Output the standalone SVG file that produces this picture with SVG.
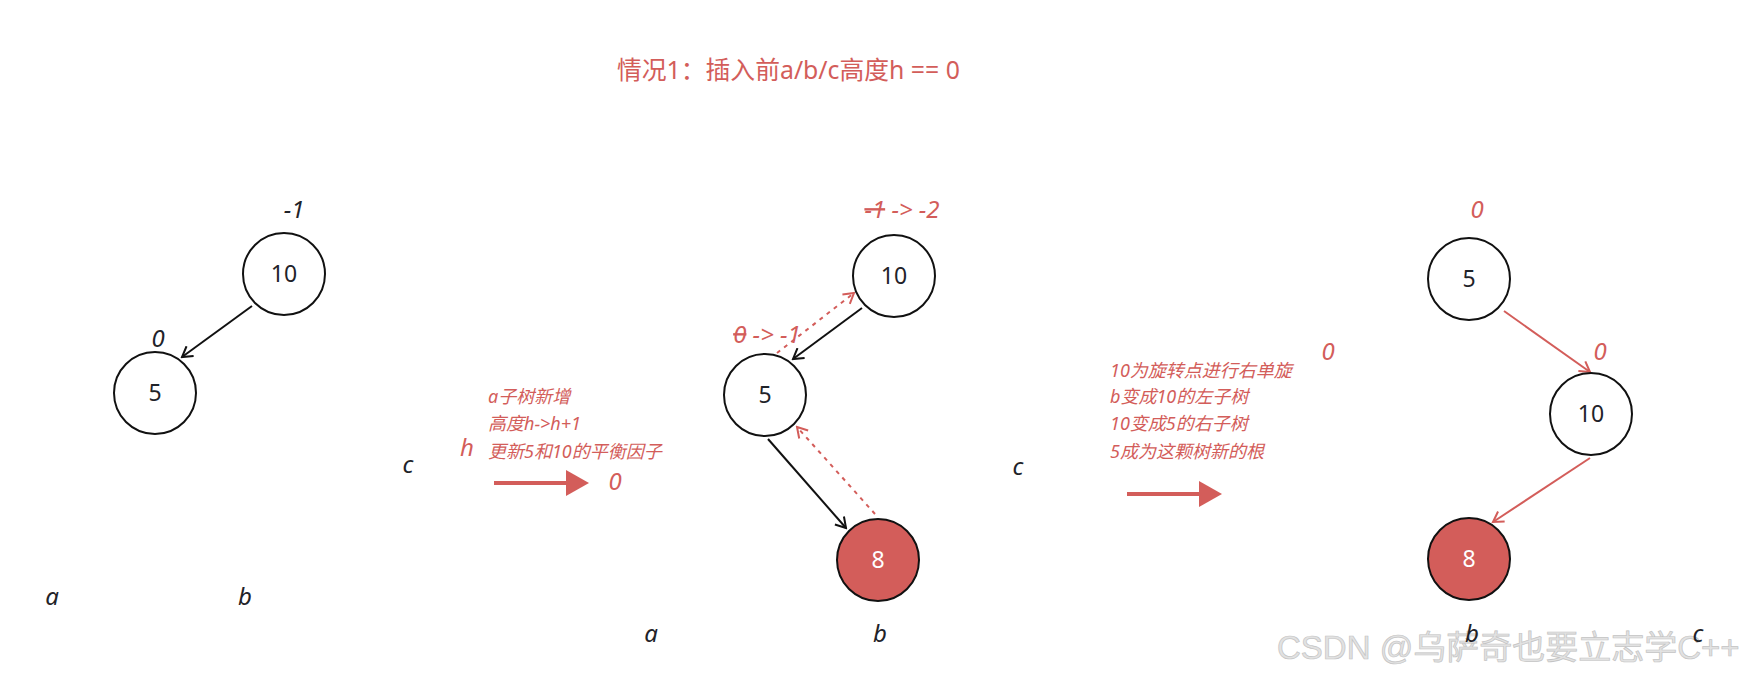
<svg xmlns="http://www.w3.org/2000/svg" width="1751" height="678" viewBox="0 0 1751 678">
<style>
.node{fill:#fff;stroke:#111;stroke-width:2}
.nodeR{fill:#d35d5a;stroke:#111;stroke-width:2}
.num{font-family:"Noto Sans","Noto Sans CJK SC",sans-serif;font-size:23px;fill:#1f2329;text-anchor:middle}
.numW{font-family:"Noto Sans","Noto Sans CJK SC",sans-serif;font-size:23px;fill:#fff;text-anchor:middle}
.lbl{font-family:"Noto Sans","Noto Sans CJK SC",sans-serif;font-style:italic;font-size:24px;fill:#1f2329;text-anchor:middle}
.lblR{font-family:"Noto Sans","Noto Sans CJK SC",sans-serif;font-style:italic;font-size:24px;fill:#d35d5a;text-anchor:middle}
.note{font-family:"Noto Sans","Noto Sans CJK SC",sans-serif;font-style:italic;font-size:18px;fill:#d35d5a}
.title{font-family:"Noto Sans","Noto Sans CJK SC",sans-serif;font-size:24.8px;fill:#d35d5a}
.blk{stroke:#111;stroke-width:2;fill:none}
.red{stroke:#d35d5a;stroke-width:2;fill:none}
.dash{stroke:#d35d5a;stroke-width:2;fill:none;stroke-dasharray:4 5}
.wm{font-family:"Liberation Sans","Noto Sans CJK SC",sans-serif;font-size:33px;fill:#e2e2e2;stroke:#c4c4c4;stroke-width:0.7}
</style>
<defs>
<marker id="ab" markerWidth="14" markerHeight="14" refX="12" refY="7" orient="auto" markerUnits="userSpaceOnUse">
<path d="M2,1 L12,7 L2,13" fill="none" stroke="#111" stroke-width="2"/>
</marker>
<marker id="ar" markerWidth="14" markerHeight="14" refX="12" refY="7" orient="auto" markerUnits="userSpaceOnUse">
<path d="M2,1 L12,7 L2,13" fill="none" stroke="#d35d5a" stroke-width="2"/>
</marker>
</defs>
<rect width="1751" height="678" fill="#fff"/>

<text class="wm" x="1277" y="659">CSDN @乌萨奇也要立志学C++</text>

<text class="title" x="617" y="79">情况1：插入前a/b/c高度h == 0</text>

<g id="connectors">
<line class="blk" x1="252" y1="306" x2="182" y2="357" marker-end="url(#ab)"/>
<line class="blk" x1="862" y1="308" x2="793" y2="359" marker-end="url(#ab)"/>
<line class="dash" x1="777" y1="353" x2="854" y2="293" marker-end="url(#ar)"/>
<line class="blk" x1="768" y1="439" x2="846" y2="528" marker-end="url(#ab)"/>
<line class="dash" x1="875" y1="514" x2="797" y2="427" marker-end="url(#ar)"/>
<line class="red" x1="1504" y1="311" x2="1590" y2="372" marker-end="url(#ar)"/>
<line class="red" x1="1590" y1="458" x2="1493" y2="522" marker-end="url(#ar)"/>
<g id="bigArrow1">
<line x1="494" y1="483" x2="568" y2="483" stroke="#d35d5a" stroke-width="4"/>
<polygon points="566,470 589,483 566,496" fill="#d35d5a"/>
</g>
<g id="bigArrow2">
<line x1="1127" y1="494" x2="1201" y2="494" stroke="#d35d5a" stroke-width="4"/>
<polygon points="1199,481 1222,494 1199,507" fill="#d35d5a"/>
</g>
</g>

<g id="n1_10"><circle class="node" cx="284" cy="274" r="41"/><text class="num" x="284" y="282">10</text></g>
<g id="n1_5"><circle class="node" cx="155" cy="393" r="41"/><text class="num" x="155" y="401">5</text></g>
<g id="n2_10"><circle class="node" cx="894" cy="276" r="41"/><text class="num" x="894" y="284">10</text></g>
<g id="n2_5"><circle class="node" cx="765" cy="395" r="41"/><text class="num" x="765" y="403">5</text></g>
<g id="n2_8"><circle class="nodeR" cx="878" cy="560" r="41"/><text class="numW" x="878" y="568">8</text></g>
<g id="n3_5"><circle class="node" cx="1469" cy="279" r="41"/><text class="num" x="1469" y="287">5</text></g>
<g id="n3_10"><circle class="node" cx="1591" cy="414" r="41"/><text class="num" x="1591" y="422">10</text></g>
<g id="n3_8"><circle class="nodeR" cx="1469" cy="559" r="41"/><text class="numW" x="1469" y="567">8</text></g>

<g id="labels">
<text class="lbl" x="294" y="218">-1</text>
<text class="lbl" x="158" y="347">0</text>
<text class="lbl" x="408" y="473">c</text>
<text class="lbl" x="52" y="605">a</text>
<text class="lbl" x="245" y="605">b</text>
<text class="lblR" x="467" y="456">h</text>
<text class="lblR" x="615" y="490">0</text>
<text class="lblR" x="902" y="218"><tspan text-decoration="line-through">-1</tspan> -&gt; -2</text>
<text class="lblR" x="767" y="343"><tspan text-decoration="line-through">0</tspan> -&gt; -1</text>
<text class="lbl" x="651" y="642">a</text>
<text class="lbl" x="880" y="642">b</text>
<text class="lbl" x="1018" y="475">c</text>
<text class="lblR" x="1477" y="218">0</text>
<text class="lblR" x="1328" y="360">0</text>
<text class="lblR" x="1600" y="360">0</text>
<text class="lbl" x="1472" y="642">b</text>
<text class="lbl" x="1698" y="642">c</text>
</g>

<g id="note1">
<text class="note" x="488" y="403">a子树新增</text>
<text class="note" x="488" y="430">高度h-&gt;h+1</text>
<text class="note" x="488" y="458">更新5和10的平衡因子</text>
</g>
<g id="note2">
<text class="note" x="1110" y="377">10为旋转点进行右单旋</text>
<text class="note" x="1110" y="403">b变成10的左子树</text>
<text class="note" x="1110" y="430">10变成5的右子树</text>
<text class="note" x="1110" y="458">5成为这颗树新的根</text>
</g>
</svg>
